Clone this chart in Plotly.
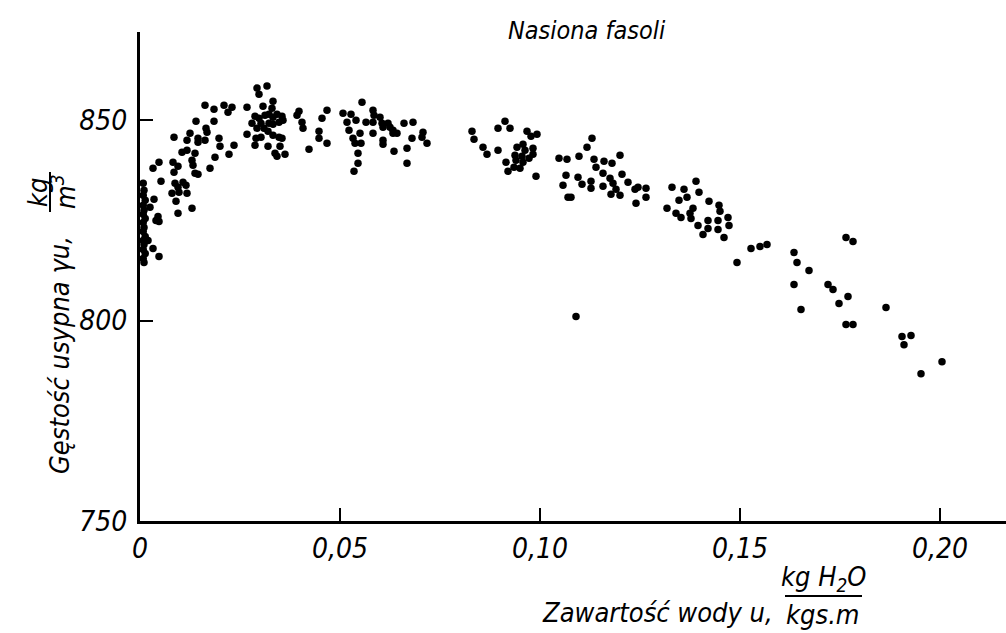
import plotly.graph_objects as go

# Moisture content u [kg H2O / kg s.m] and bulk density [kg/m3]
u_axis = [0.0008, 0.0010, 0.0008, 0.0013, 0.0008, 0.0010, 0.0008, 0.0013, 0.0008,
          0.0010, 0.0008, 0.0013, 0.0008, 0.0010, 0.0008, 0.0013, 0.0008, 0.0010]
g_axis = [834.25, 832.5, 831.25, 830, 828.75, 827.5, 826.5, 825.5, 824.5,
          823.25, 822.25, 821, 820, 819, 817.75, 816.75, 815.5, 814.5]

u_low = [0.00475, 0.00325, 0.00825, 0.0095, 0.0085, 0.00525, 0.0105, 0.01175, 0.01375,
         0.013, 0.01325, 0.01375, 0.0145, 0.01875, 0.02225, 0.0175, 0.00875, 0.0095,
         0.01075, 0.0115, 0.008, 0.00975, 0.01175, 0.009, 0.0035, 0.0025, 0.0095,
         0.013, 0.0045, 0.004, 0.00475, 0.002, 0.00325, 0.00475,
         0.01625, 0.0185, 0.021, 0.023, 0.022, 0.014, 0.0185, 0.0165, 0.01675,
         0.0125, 0.0085, 0.0145, 0.01175, 0.0145, 0.01625, 0.01975, 0.02, 0.0235]
g_low = [839.5, 838, 839.5, 838.5, 837, 834.75, 842, 842.5, 841.75,
         840, 838.75, 836.75, 836.5, 840.75, 841.5, 838, 834.25, 833.25,
         834.5, 833.75, 831.75, 832, 831.75, 829.75, 830.25, 828.25, 826.75,
         828, 826, 825, 824.75, 820, 818, 816,
         853.75, 852.75, 853.75, 853.25, 852, 849.75, 849.75, 848, 847,
         846.75, 845.75, 845.5, 845, 844.5, 845, 845.5, 843.5, 843.75]

u_peak = [0.02925, 0.03175, 0.02975, 0.02675, 0.03075, 0.03325, 0.033, 0.02875, 0.02975,
          0.03125, 0.03225, 0.03325, 0.03425, 0.0355, 0.03575, 0.028, 0.03025, 0.03225,
          0.03325, 0.03475, 0.02925, 0.031, 0.032, 0.02675, 0.029, 0.03025, 0.03325,
          0.03475, 0.0355, 0.02875, 0.032, 0.035, 0.03375, 0.03425, 0.03625,
          0.03975, 0.03925, 0.0405, 0.04075, 0.04675, 0.0455, 0.04475, 0.04475, 0.04675,
          0.04225]
g_peak = [858, 858.5, 856.5, 853.25, 853.5, 854.75, 853, 851, 850.5,
          851.25, 851.5, 850.75, 851.5, 851, 850, 849.25, 849.25, 849.25,
          849, 849.5, 848, 848, 847.25, 846.5, 845.5, 845.75, 846.25,
          845.75, 845.5, 843.75, 843.5, 843.5, 841.75, 841, 841.5,
          852.25, 851.25, 849.5, 848, 852.5, 850.5, 847.25, 845.5, 844.25,
          842.75]

u_mid = [0.0555, 0.05075, 0.05275, 0.05175, 0.054, 0.0565, 0.05825, 0.0585, 0.05825,
         0.06, 0.0605, 0.062, 0.0625, 0.06325, 0.06425, 0.06075, 0.066, 0.06825,
         0.05225, 0.05325, 0.05375, 0.055, 0.05525, 0.05825, 0.06075, 0.06075, 0.06325,
         0.068, 0.07075, 0.0705, 0.07175, 0.0545, 0.0635, 0.06675, 0.0545, 0.06675,
         0.0535]
g_mid = [854.5, 851.75, 851.5, 849.5, 850, 849.5, 852.5, 851.25, 849.5,
         850.75, 849.25, 849.25, 848.25, 847.5, 846.75, 848.25, 849.25, 849.5,
         847.5, 845.5, 844.25, 846.75, 844.25, 846.75, 845, 844, 846.75,
         845.5, 847, 845.75, 844.25, 841.75, 842.25, 843, 839.25, 839.25,
         837.25]

u_ten = [0.083, 0.0835, 0.08575, 0.08675, 0.09125, 0.0895, 0.0925, 0.0895, 0.09675,
         0.09775, 0.09925, 0.09575, 0.09425, 0.09625, 0.09825, 0.09375, 0.0955, 0.09725,
         0.09825, 0.094, 0.0915, 0.09575, 0.0935, 0.095, 0.092, 0.099]
g_ten = [847.25, 845.25, 843.25, 841.5, 849.75, 848, 848, 842.5, 847.25,
         846, 846.5, 844, 843.25, 842.5, 843, 841.25, 841, 840.5,
         841.5, 840, 839.5, 839.5, 838.25, 838, 837.25, 836]

u_twelve = [0.113, 0.11175, 0.10475, 0.10675, 0.10975, 0.1135, 0.116, 0.118, 0.12,
            0.114, 0.11575, 0.1175, 0.11825, 0.1205, 0.1065, 0.1095, 0.11275, 0.1105,
            0.10575, 0.11275, 0.11575, 0.119, 0.122, 0.12375, 0.1245, 0.1265, 0.11775,
            0.12, 0.1265, 0.124, 0.107, 0.10775, 0.109]
g_twelve = [845.5, 843.25, 840.5, 840.25, 841, 840.25, 839.75, 839.25, 841.25,
            838.25, 836.75, 835.5, 834.25, 836.5, 836.25, 835.75, 834.75, 834,
            833.75, 833, 833.5, 832.75, 834.5, 832.75, 833.25, 833, 831.5,
            831.25, 830.75, 829.25, 830.75, 830.75, 801]

u_fourteen = [0.133, 0.136, 0.139, 0.13975, 0.13675, 0.13475, 0.14225, 0.13175, 0.134,
              0.13525, 0.13825, 0.1375, 0.13775, 0.14475, 0.145, 0.147, 0.142, 0.1445,
              0.1395, 0.142, 0.1445, 0.14725, 0.14075, 0.146]
g_fourteen = [833.25, 832.75, 834.75, 832, 830.75, 830, 829.75, 828, 826.75,
              825.75, 828, 826.75, 825.5, 828.75, 827.25, 825.75, 825, 825,
              823.75, 823, 822.75, 823.75, 821.5, 820.75]

u_high = [0.14925, 0.15275, 0.155, 0.15675, 0.1635, 0.16425, 0.16725, 0.1765, 0.17825,
          0.1635, 0.172, 0.17325, 0.177, 0.17475, 0.16525, 0.1865, 0.1765, 0.17825,
          0.1905, 0.19275, 0.191, 0.2005, 0.19525]
g_high = [814.5, 818, 818.5, 819, 817, 814.5, 812.5, 820.75, 819.75,
          809, 809, 807.75, 806, 804.25, 802.75, 803.25, 799, 799,
          796, 796.25, 794, 789.75, 786.75]

x_tickvals = [0, 0.05, 0.10, 0.15, 0.20]
x_ticktext = ["0", "0,05", "0,10", "0,15", "0,20"]
y_tickvals = [750, 800, 850]
y_ticktext = ["750", "800", "850"]

FONT = "Liberation Sans Narrow, DejaVu Sans Condensed, Arial Narrow, sans-serif"

u_all = u_axis + u_low + u_peak + u_mid + u_ten + u_twelve + u_fourteen + u_high
g_all = g_axis + g_low + g_peak + g_mid + g_ten + g_twelve + g_fourteen + g_high

fig = go.Figure()
fig.add_trace(go.Scatter(
    x=u_all, y=g_all, mode="markers",
    marker=dict(size=7.5, color="black", line=dict(width=0)),
    showlegend=False, cliponaxis=False,
))

W, H = 1006, 633
L, R, T, B = 140, 0, 32, 112
pw, ph = W - L - R, H - T - B

def px(x):
    return (x - L) / pw

def py(y):
    return (H - B - y) / ph

fig.update_layout(
    width=W, height=H,
    margin=dict(l=L, r=R, t=T, b=B),
    paper_bgcolor="white", plot_bgcolor="white",
    font=dict(family=FONT, color="black", size=28),
    xaxis=dict(
        range=[0, 0.2165], showgrid=False, zeroline=False,
        showline=True, linecolor="black", linewidth=3,
        ticks="inside", ticklen=13, tickwidth=1.5, tickcolor="black",
        tickvals=x_tickvals, ticktext=x_ticktext,
        tickfont=dict(family=FONT, size=28, style="italic"),
        ticklabelstandoff=0,
    ),
    yaxis=dict(
        range=[750, 872], showgrid=False, zeroline=False,
        showline=True, linecolor="black", linewidth=3,
        ticks="inside", ticklen=13, tickwidth=1.5, tickcolor="black",
        tickvals=y_tickvals, ticktext=y_ticktext,
        tickfont=dict(family=FONT, size=28, style="italic"),
        ticklabelstandoff=4,
    ),
)

it = dict(family=FONT, size=27, color="black", style="italic")
ann = [
    dict(text="Nasiona fasoli", x=px(587), y=py(30), font=dict(it, size=25)),
    dict(text="Zawartość wody u,", x=px(775), y=py(612), xanchor="right", font=it),
    dict(text="kg H<sub>2</sub>O", x=px(823), y=py(578), font=it),
    dict(text="kgs.m", x=px(823), y=py(614), font=it),
    dict(text="Gęstość usypna γu,", x=px(59), y=py(355), textangle=-90, font=it),
    dict(text="kg", x=px(38), y=py(192), textangle=-90, font=it),
    dict(text="m<sup>3</sup>", x=px(64), y=py(192), textangle=-90, font=it),
]
for a in ann:
    a.update(xref="paper", yref="paper", showarrow=False)
    a.setdefault("xanchor", "center")
    a.setdefault("yanchor", "middle")
    fig.add_annotation(**a)

fig.add_shape(type="line", xref="paper", yref="paper",
              x0=px(785), x1=px(862), y0=py(596), y1=py(596),
              line=dict(color="black", width=2))
fig.add_shape(type="line", xref="paper", yref="paper",
              x0=px(50), x1=px(50), y0=py(172), y1=py(212),
              line=dict(color="black", width=2))

fig.write_html("out.html")
